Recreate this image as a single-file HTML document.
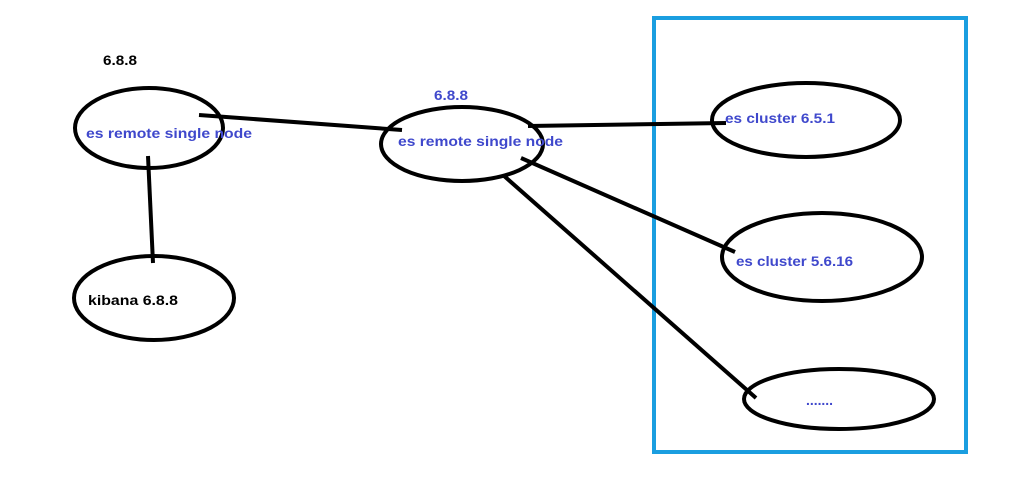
<!DOCTYPE html>
<html><head><meta charset="utf-8"><style>
html,body{margin:0;padding:0;background:#fff;}
svg{display:block;}
text{font-family:"Liberation Sans",sans-serif;font-weight:bold;font-size:14px;}
</style></head><body>
<svg width="1036" height="489" xmlns="http://www.w3.org/2000/svg">
<rect width="1036" height="489" fill="#fff"/>
<rect x="654" y="18" width="312" height="434" fill="none" stroke="#1a9ee0" stroke-width="4"/>
<g fill="none" stroke="#000" stroke-width="4">
<ellipse cx="149" cy="128" rx="74" ry="40"/>
<ellipse cx="154" cy="298" rx="80" ry="42"/>
<ellipse cx="462" cy="144" rx="81" ry="37"/>
<ellipse cx="806" cy="120" rx="94" ry="37"/>
<ellipse cx="822" cy="257" rx="100" ry="44"/>
<ellipse cx="839" cy="399" rx="95" ry="30"/>
<line x1="199" y1="115" x2="402" y2="130"/>
<line x1="148" y1="156" x2="153" y2="263"/>
<line x1="528" y1="126" x2="726" y2="123"/>
<line x1="521" y1="158" x2="735" y2="252"/>
<line x1="503" y1="175" x2="756" y2="398"/>
</g>
<text x="103" y="65" fill="#000" textLength="34" lengthAdjust="spacingAndGlyphs">6.8.8</text>
<text x="86" y="138" fill="#3f48cc" textLength="166" lengthAdjust="spacingAndGlyphs">es remote single node</text>
<text x="88" y="305" fill="#000" textLength="90" lengthAdjust="spacingAndGlyphs">kibana 6.8.8</text>
<text x="434" y="100" fill="#3f48cc" textLength="34" lengthAdjust="spacingAndGlyphs">6.8.8</text>
<text x="398" y="146" fill="#3f48cc" textLength="165" lengthAdjust="spacingAndGlyphs">es remote single node</text>
<text x="725" y="123" fill="#3f48cc" textLength="110" lengthAdjust="spacingAndGlyphs">es cluster 6.5.1</text>
<text x="736" y="266" fill="#3f48cc" textLength="117" lengthAdjust="spacingAndGlyphs">es cluster 5.6.16</text>
<text x="806" y="405" fill="#3f48cc" textLength="27" lengthAdjust="spacingAndGlyphs">.......</text>
</svg>
</body></html>
